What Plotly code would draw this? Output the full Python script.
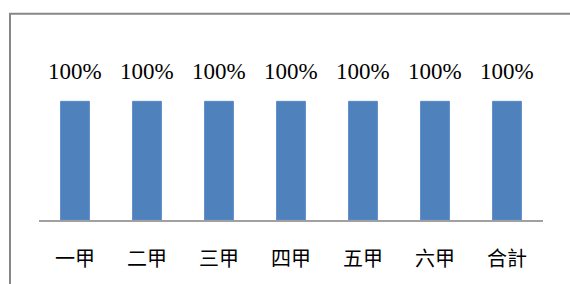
import plotly.graph_objects as go

categories = ["一甲", "二甲", "三甲", "四甲", "五甲", "六甲", "合計"]
values = [1.0, 1.0, 1.0, 1.0, 1.0, 1.0, 1.0]
value_labels = ["100%", "100%", "100%", "100%", "100%", "100%", "100%"]

W, H = 570, 284
L, R, T, B = 39, 27, 42, 59
pw = W - L - R
ph = H - T - B

fig = go.Figure()
fig.add_trace(go.Bar(
    x=categories, y=values, width=0.4,
    marker=dict(color="#4f81bd", line=dict(color="#5b8cc6", width=1)),
    hoverinfo="skip",
))

for c, v, t in zip(categories, values, value_labels):
    fig.add_annotation(x=c, y=v, text=t, showarrow=False, yanchor="bottom",
                       yshift=15, font=dict(family="Liberation Serif, Times New Roman, serif",
                                            size=23, color="#000000"))

def px2x(px):
    return (px - L) / pw

def py2y(py):
    return (H - B - py) / ph

fig.add_shape(type="rect", xref="paper", yref="paper",
              x0=px2x(10), x1=px2x(600), y0=py2y(320), y1=py2y(13),
              line=dict(color="#878787", width=2), fillcolor="rgba(0,0,0,0)", layer="below")

fig.update_layout(
    width=W, height=H,
    margin=dict(l=L, r=R, t=T, b=B, pad=0),
    paper_bgcolor="white", plot_bgcolor="white",
    showlegend=False,
    bargap=0.6,
    xaxis=dict(showline=True, linecolor="#a0a0a0", linewidth=2, ticks="",
               showgrid=False, zeroline=False, ticklabelstandoff=20,
               tickfont=dict(family="Noto Sans CJK TC, Noto Sans CJK SC, sans-serif",
                             size=20, color="#000000")),
    yaxis=dict(range=[0, 1.5], visible=False, showgrid=False, zeroline=False),
)

fig.write_html("out.html", config={"displayModeBar": False, "staticPlot": True},
               post_script="document.body.style.margin='0';document.body.style.overflow='hidden';")
